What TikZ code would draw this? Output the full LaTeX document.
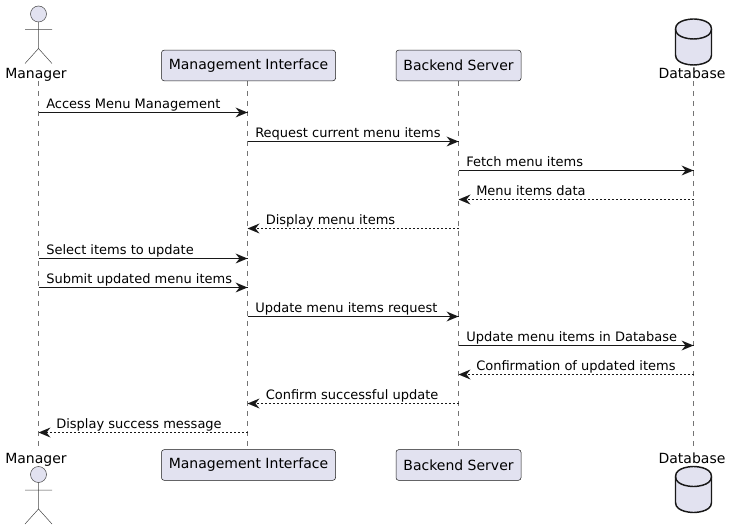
\documentclass[tikz,border=0pt]{standalone}
\usepackage{fontspec}
\setmainfont{DejaVu Sans}
\definecolor{pfill}{HTML}{E2E2F0}
\definecolor{pline}{HTML}{181818}
\tikzset{
  ptext/.style={font=\fontsize{10.5pt}{12pt}\selectfont,text=black,inner sep=0pt,anchor=base,yshift=-0.75pt},
  pbox/.style={draw=pline,fill=pfill,line width=0.375pt,rounded corners=1.9pt,minimum height=22.9pt,inner sep=0pt,text=black,font=\fontsize{10.5pt}{12pt}\selectfont},
  life/.style={draw=pline!60,line width=0.375pt,dash pattern=on 3.75pt off 3.75pt},
  shape line/.style={draw=pline!80,line width=0.375pt},
  dbline/.style={draw=pline,line width=1.1pt,fill=pfill},
  msgtext/.style={font=\fontsize{9.75pt}{12pt}\selectfont,text=black,inner sep=0pt,anchor=base west,yshift=-0.5pt},
  msg/.style={draw=pline,line width=0.75pt},
  ret/.style={draw=pline,line width=0.75pt,dash pattern=on 1.5pt off 1.5pt},
}
% filled PlantUML style arrowheads (#1 tip coordinate, #2 direction: 1 pointing right, -1 left)
\newcommand{\headat}[2]{\fill[pline] (#1) -- ++(-12*#2,-5) -- ++(4*#2,5) -- ++(-4*#2,5) -- cycle;}
\newcommand{\actorat}[1]{%
  \draw[shape line,fill=pfill] (38.5,#1) circle[radius=6pt];
  \draw[shape line] (38.5,#1+8) -- (38.5,#1+34.5) (25,#1+15.5) -- (52,#1+15.5)
    (25,#1+49.5) -- (38.5,#1+34.5) -- (52,#1+49.5);}
\newcommand{\dbat}[1]{%
  \draw[dbline] (675.5,#1+10) .. controls (675.5,#1) and (693.5,#1) .. (693.5,#1)
    .. controls (693.5,#1) and (711.5,#1) .. (711.5,#1+10)
    -- (711.5,#1+36) .. controls (711.5,#1+46) and (693.5,#1+46) .. (693.5,#1+46)
    .. controls (693.5,#1+46) and (675.5,#1+46) .. (675.5,#1+36) -- cycle;
  \draw[dbline,fill=none] (675.5,#1+10) .. controls (675.5,#1+20) and (693.5,#1+20) .. (693.5,#1+20)
    .. controls (693.5,#1+20) and (711.5,#1+20) .. (711.5,#1+10);}
\newcommand{\boxtext}[1]{\raisebox{-1.5pt}{#1}}
\begin{document}
\begin{tikzpicture}[x=0.75pt,y=-0.75pt]
\useasboundingbox (0,0) rectangle (730,530);
% lifeline anchors
\coordinate (mgr) at (38.5,81);   \coordinate (mgrb) at (38.5,447);
\coordinate (mi)  at (247.5,81);  \coordinate (mib)  at (247.5,449);
\coordinate (bs)  at (458.5,81);  \coordinate (bsb)  at (458.5,449);
\coordinate (db)  at (693.5,81);  \coordinate (dbb)  at (693.5,447);
\draw[life] (mgr) -- (mgrb);
\draw[life] (mi) -- (mib);
\draw[life] (bs) -- (bsb);
\draw[life] (db) -- (dbb);
% participants
\actorat{14}
\node[ptext] (mgrtop) at (36,78) {Manager};
\node[pbox,minimum width=130.5pt] (mitop) at (248.5,65.5) {\boxtext{Management Interface}};
\node[pbox,minimum width=93.75pt] (bstop) at (458.5,65.5) {\boxtext{Backend Server}};
\dbat{19}
\node[ptext] (dbtop) at (692,78) {Database};
\node[ptext] (mgrbot) at (36,462) {Manager};
\actorat{474.5}
\node[pbox,minimum width=130.5pt] (mibot) at (248.5,465) {\boxtext{Management Interface}};
\node[pbox,minimum width=93.75pt] (bsbot) at (458.5,465) {\boxtext{Backend Server}};
\node[ptext] (dbbot) at (692,462) {Database};
\dbat{466.5}
% message levels
\foreach \n/\y in {1/112.5,2/141.5,3/170.5,4/199.5,5/228.5,6/258.5,7/287.5,8/316.5,9/345.5,10/374.5,11/403.5,12/432.5}
  \coordinate (y\n) at (0,\y);
% messages
\draw[msg] (mgr |- y1) -- (mi |- y1);  \headat{mi |- y1}{1}
\node[msgtext] (t1) at (46,107.5) {Access Menu Management};
\draw[msg] (mi |- y2) -- (bs |- y2);   \headat{bs |- y2}{1}
\node[msgtext] (t2) at (255,136.5) {Request current menu items};
\draw[msg] (bs |- y3) -- (db |- y3);   \headat{db |- y3}{1}
\node[msgtext] (t3) at (466,165.5) {Fetch menu items};
\draw[ret] (db |- y4) -- (bs |- y4);   \headat{bs |- y4}{-1}
\node[msgtext] (t4) at (476,194.5) {Menu items data};
\draw[ret] (bs |- y5) -- (mi |- y5);   \headat{mi |- y5}{-1}
\node[msgtext] (t5) at (265.5,223.5) {Display menu items};
\draw[msg] (mgr |- y6) -- (mi |- y6);  \headat{mi |- y6}{1}
\node[msgtext] (t6) at (46,253.5) {Select items to update};
\draw[msg] (mgr |- y7) -- (mi |- y7);  \headat{mi |- y7}{1}
\node[msgtext] (t7) at (46,282.5) {Submit updated menu items};
\draw[msg] (mi |- y8) -- (bs |- y8);   \headat{bs |- y8}{1}
\node[msgtext] (t8) at (255,311.5) {Update menu items request};
\draw[msg] (bs |- y9) -- (db |- y9);   \headat{db |- y9}{1}
\node[msgtext] (t9) at (466,340.5) {Update menu items in Database};
\draw[ret] (db |- y10) -- (bs |- y10); \headat{bs |- y10}{-1}
\node[msgtext] (t10) at (476,369.5) {Confirmation of updated items};
\draw[ret] (bs |- y11) -- (mi |- y11); \headat{mi |- y11}{-1}
\node[msgtext] (t11) at (265.5,398.5) {Confirm successful update};
\draw[ret] (mi |- y12) -- (mgr |- y12);\headat{mgr |- y12}{-1}
\node[msgtext] (t12) at (56,427.5) {Display success message};
\end{tikzpicture}
\end{document}
